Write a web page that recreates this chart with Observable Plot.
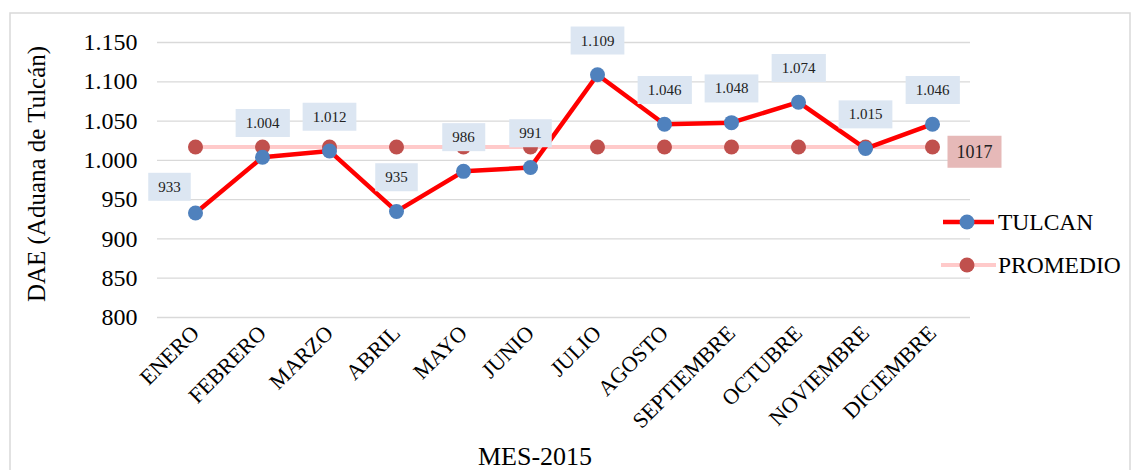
<!DOCTYPE html>
<html>
<head>
<meta charset="utf-8">
<script src="https://cdn.jsdelivr.net/npm/d3@7"></script>
<script src="https://cdn.jsdelivr.net/npm/@observablehq/plot@0.6"></script>
<style>
  body { margin: 0; background: #fff; }
  #chart { position: relative; width: 1142px; height: 470px; overflow: hidden; }
</style>
</head>
<body>
<div id="chart"></div>
<script>
const months = ["ENERO","FEBRERO","MARZO","ABRIL","MAYO","JUNIO","JULIO","AGOSTO","SEPTIEMBRE","OCTUBRE","NOVIEMBRE","DICIEMBRE"];
const tulcan = [933, 1004, 1012, 935, 986, 991, 1109, 1046, 1048, 1074, 1015, 1046];
const promedio = [1017, 1017, 1017, 1017, 1017, 1017, 1017, 1017, 1017, 1017, 1017, 1017];
const yTicks = [800, 850, 900, 950, 1000, 1050, 1100, 1150];
const seriesNames = ["TULCAN", "PROMEDIO"];
const yTitle = "DAE (Aduana de Tulcán)";
const xTitle = "MES-2015";

const fmt = d3.formatLocale({decimal: ",", thousands: ".", grouping: [3], currency: ["$", ""]}).format(",d");

const tData = months.map((m, i) => ({month: m, value: tulcan[i], i}));
const pData = months.map((m, i) => ({month: m, value: promedio[i], i}));

const FONT = "Liberation Serif";
const BLUE = "#4f81bd", RED = "#ff0000", PDOT = "#c0504d", PLINE = "#ffcaca";

const plot = Plot.plot({
  width: 1142,
  height: 470,
  marginLeft: 157,
  marginRight: 172,
  marginTop: 42,
  marginBottom: 153,
  style: {background: "#fff", color: "#000"},
  x: {type: "point", domain: months, padding: 0.5, label: null},
  y: {domain: [800, 1150], label: null},
  marks: [
    Plot.gridY(yTicks, {stroke: "#d9d9d9", strokeOpacity: 1, strokeWidth: 1.3}),
    Plot.axisY(yTicks, {tickSize: 0, tickPadding: 20, tickFormat: fmt, fontSize: 24, label: null}),
    Plot.axisX({tickSize: 0, tickPadding: 12, tickRotate: -45, fontSize: 22, label: null}),
    Plot.line(pData, {x: "month", y: "value", stroke: PLINE, strokeWidth: 4}),
    Plot.dot(pData, {x: "month", y: "value", r: 7.5, fill: PDOT}),
    Plot.line(tData, {x: "month", y: "value", stroke: RED, strokeWidth: 4.5}),
    Plot.dot(tData, {x: "month", y: "value", r: 7.5, fill: BLUE}),
    // data labels (first month placed to the left)
    Plot.text(tData.filter(d => d.i === 0), {x: "month", y: "value", text: d => fmt(d.value), dx: -26, dy: -26, fontSize: 15, fill: "#222"}),
    Plot.text(tData.filter(d => d.i > 0), {x: "month", y: "value", text: d => fmt(d.value), dy: -34, fontSize: 15, fill: "#222"}),
    Plot.text(pData.filter(d => d.i === pData.length - 1), {x: "month", y: "value", text: d => String(d.value), dx: 42, dy: 5, fontSize: 18, fill: "#222"})
  ]
});

document.getElementById("chart").appendChild(plot);

const svg = d3.select(plot);
svg.attr("font-family", FONT).style("font-family", FONT);
svg.selectAll("text").attr("font-family", FONT).style("font-family", FONT);

// label boxes behind data labels
const boxFills = ["#dce6f2", "#dce6f2", "#e6b9b8"];
const boxPad = [[10, 7], [10, 7], [9, 7]];
svg.selectAll('g[aria-label="text"]').each(function(_, gi) {
  const g = d3.select(this);
  g.selectAll("text").each(function() {
    const bb = this.getBBox();
    const [px, py] = boxPad[gi] || [10, 7];
    const parent = this.parentNode;
    const rect = document.createElementNS("http://www.w3.org/2000/svg", "rect");
    rect.setAttribute("x", bb.x - px);
    rect.setAttribute("y", bb.y - py + 1);
    rect.setAttribute("width", bb.width + 2 * px);
    rect.setAttribute("height", bb.height + 2 * py - 2);
    rect.setAttribute("fill", boxFills[gi] || "#dce6f2");
    const tr = this.getAttribute("transform");
    if (tr) rect.setAttribute("transform", tr);
    parent.insertBefore(rect, this);
  });
});

// axis titles
svg.append("text")
  .attr("transform", "translate(45,174) rotate(-90)")
  .attr("text-anchor", "middle")
  .attr("font-family", FONT)
  .attr("font-size", 25)
  .text(yTitle);

svg.append("text")
  .attr("x", 535)
  .attr("y", 465)
  .attr("text-anchor", "middle")
  .attr("font-family", FONT)
  .attr("font-size", 26)
  .text(xTitle);

// legend
const leg = svg.append("g").attr("font-size", 23.5).attr("font-family", FONT).attr("text-anchor", "start");
const legItems = [
  {name: seriesNames[0], line: RED, dot: BLUE, w: 4.5, y: 222, x1: 943, x2: 994},
  {name: seriesNames[1], line: PLINE, dot: PDOT, w: 4, y: 265, x1: 941, x2: 996}
];
legItems.forEach(it => {
  leg.append("line").attr("x1", it.x1).attr("x2", it.x2).attr("y1", it.y).attr("y2", it.y)
    .attr("stroke", it.line).attr("stroke-width", it.w);
  leg.append("circle").attr("cx", 967).attr("cy", it.y).attr("r", 7.5).attr("fill", it.dot);
  leg.append("text").attr("x", 998).attr("y", it.y + 8).attr("font-family", FONT).text(it.name);
});

// outer border
svg.append("rect")
  .attr("x", 10).attr("y", 13).attr("width", 1120).attr("height", 470)
  .attr("fill", "none").attr("stroke", "#d9d9d9").attr("stroke-width", 1.5);
</script>
</body>
</html>
